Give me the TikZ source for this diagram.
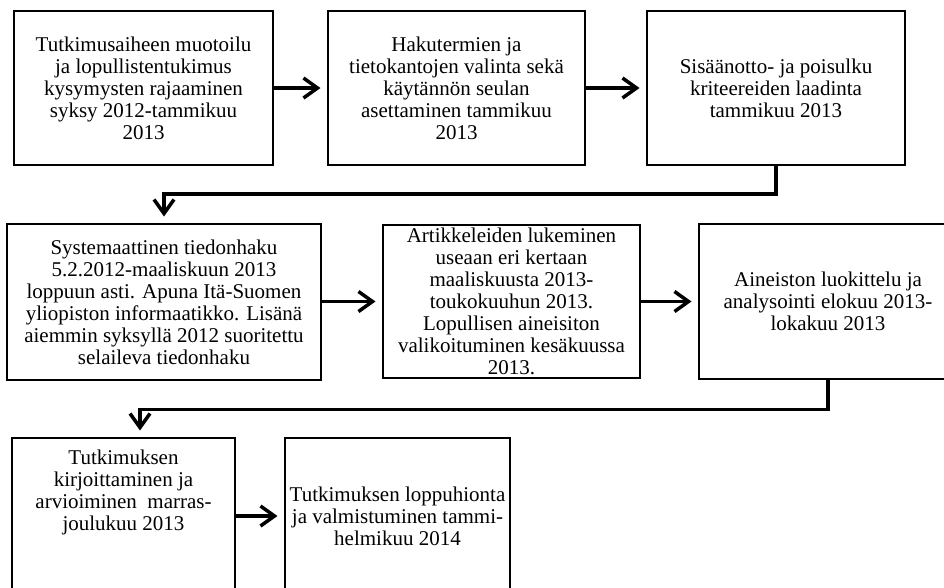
\documentclass[tikz,border=0pt]{standalone}
\usepackage{fontspec}
\setmainfont{Liberation Serif}
\usetikzlibrary{arrows.meta}
\tikzset{
  boxnode/.style={draw=black, line width=2pt, rectangle, inner sep=0pt, outer sep=0pt},
  txt/.style={align=center, inner sep=0pt, font=\fontsize{21}{22}\selectfont},
  arr/.style={line width=3.5pt, -{Straight Barb[length=14pt,width=20pt]}, shorten >=7.5pt},
  elbow/.style={line width=3.5pt, -{Straight Barb[length=14pt,width=20pt]}, shorten >=7.5pt},
}
\begin{document}
\begin{tikzpicture}[x=1pt,y=-1pt]
\fill[white] (0,0) rectangle (944,587);
\clip (0,0) rectangle (944,587);
% boxes
\node[boxnode, minimum width=259pt, minimum height=154pt] (b1) at (143.5,88) {};
\node[boxnode, minimum width=257pt, minimum height=154pt] (b2) at (456.5,88) {};
\node[boxnode, minimum width=258pt, minimum height=154pt] (b3) at (776,88) {};
\node[boxnode, minimum width=314pt, minimum height=156pt] (b4) at (164,302) {};
\node[boxnode, minimum width=257pt, minimum height=153pt] (b5) at (511.5,301.5) {};
\node[boxnode, minimum width=258pt, minimum height=155pt] (b6) at (828,301.5) {};
\node[boxnode, minimum width=223pt, minimum height=156pt] (b7) at (123.5,516) {};
\node[boxnode, minimum width=225pt, minimum height=156pt] (b8) at (397.5,516) {};
% texts
\node[txt] (t1) at (b1.center) {Tutkimusaiheen muotoilu\\ja lopullistentukimus\\kysymysten rajaaminen\\syksy 2012-tammikuu\\2013};
\node[txt] (t2) at (b2.center) {Hakutermien ja\\tietokantojen valinta sekä\\käytännön seulan\\asettaminen tammikuu\\2013};
\node[txt] (t3) at (b3.center) {Sisäänotto- ja poisulku\\kriteereiden laadinta\\tammikuu 2013};
\node[txt] (t4) at (b4.center) {Systemaattinen tiedonhaku\\5.2.2012-maaliskuun 2013\\loppuun asti. Apuna Itä-Suomen\\yliopiston informaatikko. Lisänä\\aiemmin syksyllä 2012 suoritettu\\selaileva tiedonhaku};
\node[txt] (t5) at (b5.center) {Artikkeleiden lukeminen\\useaan eri kertaan\\maaliskuusta 2013-\\toukokuuhun 2013.\\Lopullisen aineisiton\\valikoituminen kesäkuussa\\2013.};
\node[txt] (t6) at (b6.center) {Aineiston luokittelu ja\\analysointi elokuu 2013-\\lokakuu 2013};
\node[txt] (t7) at ([yshift=24pt]b7.center) {Tutkimuksen\\kirjoittaminen ja\\arvioiminen\ \ marras-\\joulukuu 2013};
\node[txt] (t8) at (b8.center) {Tutkimuksen loppuhionta\\ja valmistuminen tammi-\\helmikuu 2014};
% arrows
\draw[arr] (b1.east) -- (b2.west);
\draw[arr] (b2.east) -- (b3.west);
\draw[arr] (b4.east |- b5.west) -- (b5.west);
\draw[arr] (b5.east) -- (b6.west |- b5.east);
\draw[arr] (b7.east |- b8.center) -- (b8.west |- b8.center);
\coordinate (e1a) at (776,194);
\coordinate (e1b) at (164,194);
\draw[elbow] (b3.south) -- (e1a) -- (e1b) -- (e1b |- b4.north);
\coordinate (e2a) at (828,409.5);
\coordinate (e2b) at (140,409.5);
\draw[elbow] (b6.south) -- (e2a) -- (e2b) -- (e2b |- b7.north);
\end{tikzpicture}
\end{document}
